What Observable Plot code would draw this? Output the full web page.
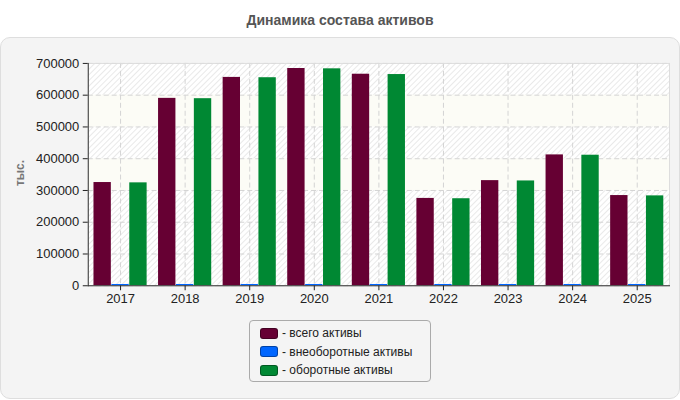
<!DOCTYPE html>
<html>
<head>
<meta charset="utf-8">
<script src="https://cdn.jsdelivr.net/npm/d3@7"></script>
<script src="https://cdn.jsdelivr.net/npm/@observablehq/plot@0.6"></script>
<style>
  html, body { margin: 0; padding: 0; background: #ffffff; }
  body { width: 680px; height: 400px; position: relative; font-family: "Liberation Sans", Arial, sans-serif; overflow: hidden; }
  #title { position: absolute; left: 0; top: 12px; width: 680px; text-align: center; font-size: 14px; font-weight: bold; color: #555; }
  #panel { position: absolute; left: 0; top: 37px; width: 678px; height: 360px; border: 1px solid #dedede; border-radius: 10px; background: #f4f4f4; }
  .layer { position: absolute; left: 0; top: 0; }
  #ylabel { position: absolute; left: 12px; top: 135px; font-size: 12px; font-weight: bold; color: #777; transform-origin: 0 0; transform: rotate(-90deg) translate(-50%, 0); white-space: nowrap; }
  #legend { position: absolute; left: 248px; top: 282px; width: 180px; height: 60px; border: 1px solid #aaa; border-radius: 4px; background: #f4f4f4; }
  .item { position: absolute; left: 10px; height: 18px; display: flex; align-items: center; font-size: 12px; color: #222; white-space: nowrap; }
  .sw { width: 16px; height: 9px; border-radius: 3px; border: 1px solid rgba(0,0,0,0.35); margin-right: 4px; }
</style>
</head>
<body>
<div id="title">Динамика состава активов</div>
<div id="panel">
  <div id="back" class="layer"></div>
  <div id="bars" class="layer"></div>
  <div id="axes" class="layer"></div>
  <div id="ylabel">тыс.</div>
  <div id="legend"></div>
</div>
<script>
// Asset structure by year, thousands
const years = ["2017", "2018", "2019", "2020", "2021", "2022", "2023", "2024", "2025"];
const totalAssets = [325000, 590000, 656000, 684000, 666000, 275000, 331000, 412000, 284000];
const nonCurrentAssets = [4000, 4000, 4000, 4000, 4000, 4000, 4000, 4000, 4000];
const currentAssets = [324000, 589000, 655000, 683000, 665000, 274000, 330000, 411000, 283000];
const seriesNames = ["всего активы", "внеоборотные активы", "оборотные активы"];
const seriesColors = ["#660033", "#0066ff", "#008833"];
const yTicks = [0, 100000, 200000, 300000, 400000, 500000, 600000, 700000];
// plain (unhatched) horizontal bands of the plot background
const plainBands = [[300000, 400000], [500000, 600000]];

const seriesValues = [totalAssets, nonCurrentAssets, currentAssets];
const rows = years.flatMap((year, i) =>
  seriesNames.map((series, k) => ({year, series, value: seriesValues[k][i]}))
);

// shared frame geometry so that all layers line up
const frame = {width: 680, height: 282, marginLeft: 87, marginRight: 10, marginTop: 25, marginBottom: 34};
const yearBand = {paddingInner: 0.177, paddingOuter: 0.0885, round: false};
const font = {background: "transparent", fontFamily: "Liberation Sans, Arial, sans-serif", fontSize: "13px", color: "#222"};

// background layer: hatching, grid, axes
const back = Plot.plot({
  ...frame,
  style: font,
  x: {type: "band", domain: years, ...yearBand, label: null},
  y: {domain: [0, 700000], label: null},
  marks: [
    Plot.rect([[0, 700000]], {y1: d => d[0], y2: d => d[1], fill: "url(#hatch)"}),
    Plot.rect(plainBands, {y1: d => d[0], y2: d => d[1], fill: "#fcfcf6"}),
    Plot.gridY(yTicks, {stroke: "#d4d4d4", strokeOpacity: 1, strokeDasharray: "5,3"}),
    Plot.gridX(years, {stroke: "#d4d4d4", strokeOpacity: 1, strokeDasharray: "5,3"}),
    Plot.frame({stroke: "#dddddd"}),
    Plot.axisY(yTicks, {tickSize: 5, tickPadding: 4, tickFormat: d => String(d), label: null, fontSize: 13}),
    Plot.axisX(years, {tickSize: 5, tickPadding: 3, label: null, fontSize: 13})
  ]
});

// diagonal hatch used by the background rectangle
const defs = d3.select(back).insert("defs", ":first-child");
const pat = defs.append("pattern")
  .attr("id", "hatch")
  .attr("patternUnits", "userSpaceOnUse")
  .attr("width", 4).attr("height", 4)
  .attr("patternTransform", "rotate(45)");
pat.append("rect").attr("width", 4).attr("height", 4).attr("fill", "#ffffff");
pat.append("line").attr("x1", 0).attr("y1", 0).attr("x2", 0).attr("y2", 4)
  .attr("stroke", "#e4e4e4").attr("stroke-width", 1.6);

// bar layer: grouped bars faceted by year
const bars = Plot.plot({
  ...frame,
  style: font,
  fx: {domain: years, ...yearBand, axis: null, label: null},
  x: {domain: seriesNames, axis: null, paddingInner: 0.03, paddingOuter: 0, round: false},
  y: {domain: [0, 700000], axis: null, label: null},
  color: {domain: seriesNames, range: seriesColors},
  marks: [
    Plot.barY(rows, {fx: "year", x: "series", y: "value", fill: "series"})
  ]
});

// axis lines drawn over the bars
const axes = Plot.plot({
  ...frame,
  style: font,
  x: {type: "band", domain: years, ...yearBand, axis: null},
  y: {domain: [0, 700000], axis: null},
  marks: [
    Plot.frame({anchor: "left", stroke: "#333"}),
    Plot.frame({anchor: "bottom", stroke: "#333"})
  ]
});

document.getElementById("back").appendChild(back);
document.getElementById("bars").appendChild(bars);
document.getElementById("axes").appendChild(axes);

const legend = document.getElementById("legend");
seriesNames.forEach((name, i) => {
  const item = document.createElement("div");
  item.className = "item";
  item.style.top = (3 + i * 18.5) + "px";
  const sw = document.createElement("span");
  sw.className = "sw";
  sw.style.background = seriesColors[i];
  item.appendChild(sw);
  item.appendChild(document.createTextNode("- " + name));
  legend.appendChild(item);
});
</script>
</body>
</html>
